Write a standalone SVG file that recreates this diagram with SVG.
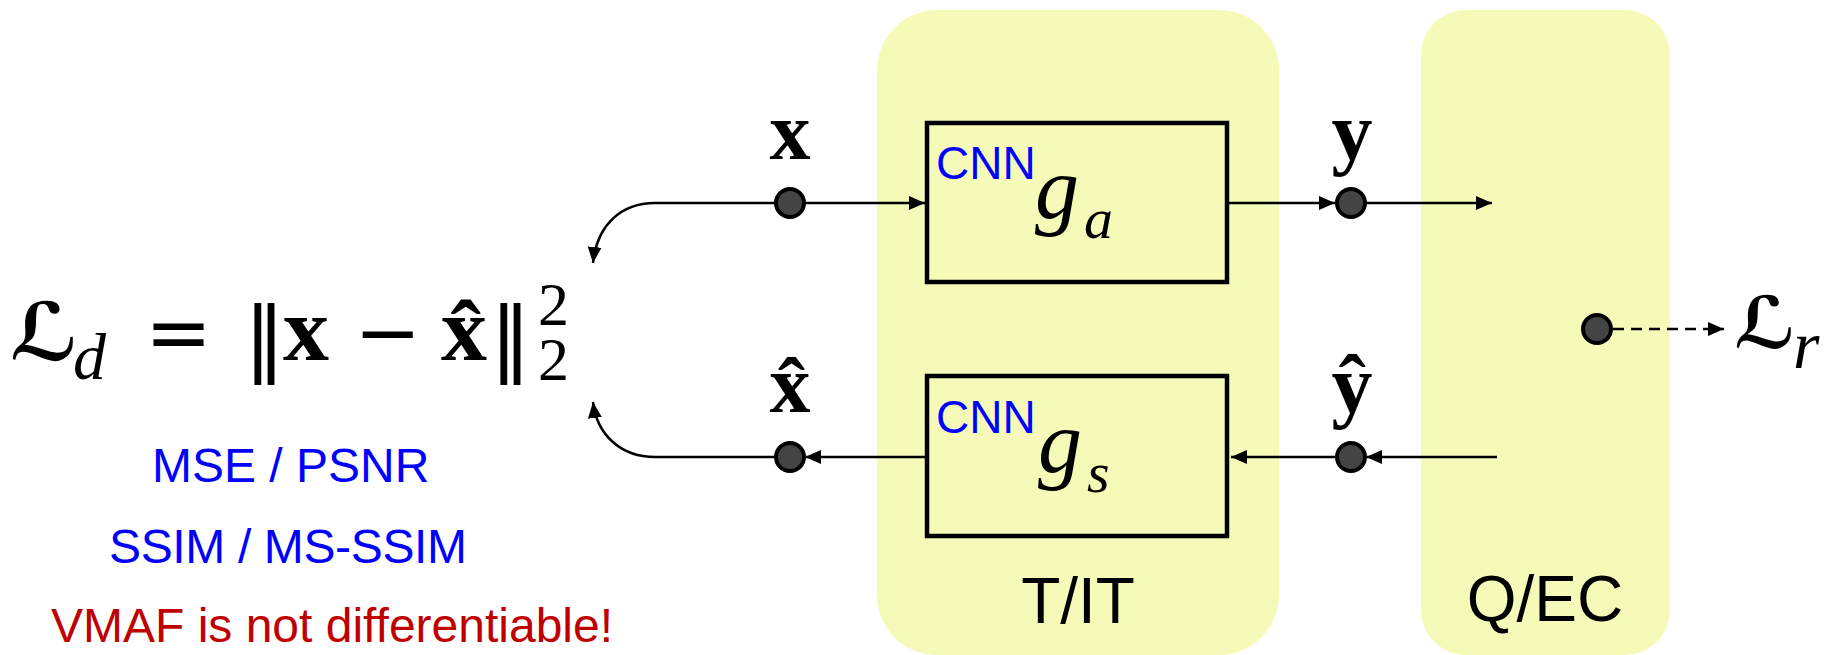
<svg xmlns="http://www.w3.org/2000/svg" width="1831" height="655" viewBox="0 0 1831 655">
<defs>
<marker id="ah" markerUnits="userSpaceOnUse" markerWidth="16" markerHeight="14" refX="16" refY="7" orient="auto">
<path d="M0,0 L16,7 L0,14 z" fill="#000"/>
</marker>
<style>
.panel{fill:#F6FAB8}
.box{fill:none;stroke:#000;stroke-width:4.5}
.conn{fill:none;stroke:#000;stroke-width:2.5}
.dash{stroke-dasharray:11 7}
.node{fill:#444;stroke:#000;stroke-width:4}
.cnn{font-family:"Liberation Sans",Arial,sans-serif;font-size:46px;fill:#0000FF}
.lab{font-family:"Liberation Sans",Arial,sans-serif;font-size:64px;fill:#000;text-anchor:middle}
.gi{font-family:"Liberation Serif","DejaVu Serif",serif;font-style:italic;fill:#000}
.scr{font-family:"DejaVu Serif","DejaVu Sans",serif;font-weight:bold;fill:#000}
.bx{font-family:"Liberation Serif","DejaVu Serif",serif;font-weight:bold;font-size:82px;fill:#000;text-anchor:middle}
.math{font-family:"Liberation Serif","DejaVu Serif",serif;fill:#000}
.sym{font-family:"DejaVu Sans",sans-serif;fill:#000}
.blue{font-family:"Liberation Sans",Arial,sans-serif;font-size:48px;fill:#0000FF}
.red{font-family:"Liberation Sans",Arial,sans-serif;font-size:48px;fill:#C00000}
</style>
</defs>

<g id="panel-tit">
<rect class="panel" x="877" y="10" width="402" height="645" rx="60" ry="60"/>
<text class="lab" x="1078" y="623">T/IT</text>
</g>
<g id="panel-qec">
<rect class="panel" x="1421" y="10" width="249" height="645" rx="45" ry="45"/>
<text class="lab" x="1545" y="621">Q/EC</text>
</g>

<g id="connectors">
<line class="conn" x1="804" y1="203" x2="925" y2="203" marker-end="url(#ah)"/>
<line class="conn" x1="1229" y1="203" x2="1335" y2="203" marker-end="url(#ah)"/>
<line class="conn" x1="1366" y1="203" x2="1492" y2="203" marker-end="url(#ah)"/>
<path class="conn" d="M776,203 H655 C622,203 597,224 593,263" marker-end="url(#ah)"/>
<line class="conn" x1="1497" y1="457" x2="1366" y2="457" marker-end="url(#ah)"/>
<line class="conn" x1="1336" y1="457" x2="1231" y2="457" marker-end="url(#ah)"/>
<line class="conn" x1="925" y1="457" x2="805" y2="457" marker-end="url(#ah)"/>
<path class="conn" d="M776,457 H655 C622,457 597,436 593,402" marker-end="url(#ah)"/>
<line class="conn dash" x1="1613" y1="329" x2="1724" y2="329" marker-end="url(#ah)"/>
</g>

<g id="ga">
<rect x="927" y="123" width="300" height="159" fill="#F6FAB8"/>
<rect class="box" x="927" y="123" width="300" height="159"/>
<text class="cnn" x="936" y="179">CNN</text>
<text class="gi" x="1035" y="218" font-size="88">g</text>
<text class="gi" x="1084" y="238" font-size="58">a</text>
</g>
<g id="gs">
<rect x="927" y="376" width="300" height="160" fill="#F6FAB8"/>
<rect class="box" x="927" y="376" width="300" height="160"/>
<text class="cnn" x="936" y="433">CNN</text>
<text class="gi" x="1038" y="472" font-size="88">g</text>
<text class="gi" x="1087" y="492" font-size="58">s</text>
</g>

<g id="node-x">
<text class="bx" x="790" y="159">x</text>
<circle class="node" cx="790" cy="203" r="14"/>
</g>
<g id="node-xhat">
<text class="bx" x="790" y="412">x̂</text>
<circle class="node" cx="790" cy="457" r="14"/>
</g>
<g id="node-y">
<text class="bx" x="1352" y="159">y</text>
<circle class="node" cx="1351" cy="203" r="14"/>
</g>
<g id="node-yhat">
<text class="bx" x="1352" y="412">ŷ</text>
<circle class="node" cx="1351" cy="457" r="14"/>
</g>
<g id="node-lr">
<circle class="node" cx="1597" cy="329" r="14"/>
<text class="scr" x="1734" y="348" font-size="72">ℒ</text>
<text class="gi" x="1793" y="368" font-size="68">r</text>
</g>

<g id="loss-d">
<text class="scr" x="10" y="360" font-size="80">ℒ</text>
<text class="gi" x="73" y="379" font-size="66">d</text>
<text class="sym" x="145" y="360" font-size="80">=</text>
<text class="sym" x="244" y="365" font-size="82">‖</text>
<text class="math" x="283" y="360" font-size="92" font-weight="bold">x</text>
<text class="sym" x="354" y="360" font-size="80">−</text>
<text class="math" x="441" y="360" font-size="92" font-weight="bold">x̂</text>
<text class="sym" x="490" y="365" font-size="82">‖</text>
<text class="math" x="538" y="325" font-size="62">2</text>
<text class="math" x="538" y="380" font-size="62">2</text>
</g>

<g id="metrics">
<text class="blue" x="152" y="482">MSE / PSNR</text>
<text class="blue" x="109" y="563" textLength="358">SSIM / MS-SSIM</text>
<text class="red" x="51" y="642">VMAF is not differentiable!</text>
</g>
</svg>
